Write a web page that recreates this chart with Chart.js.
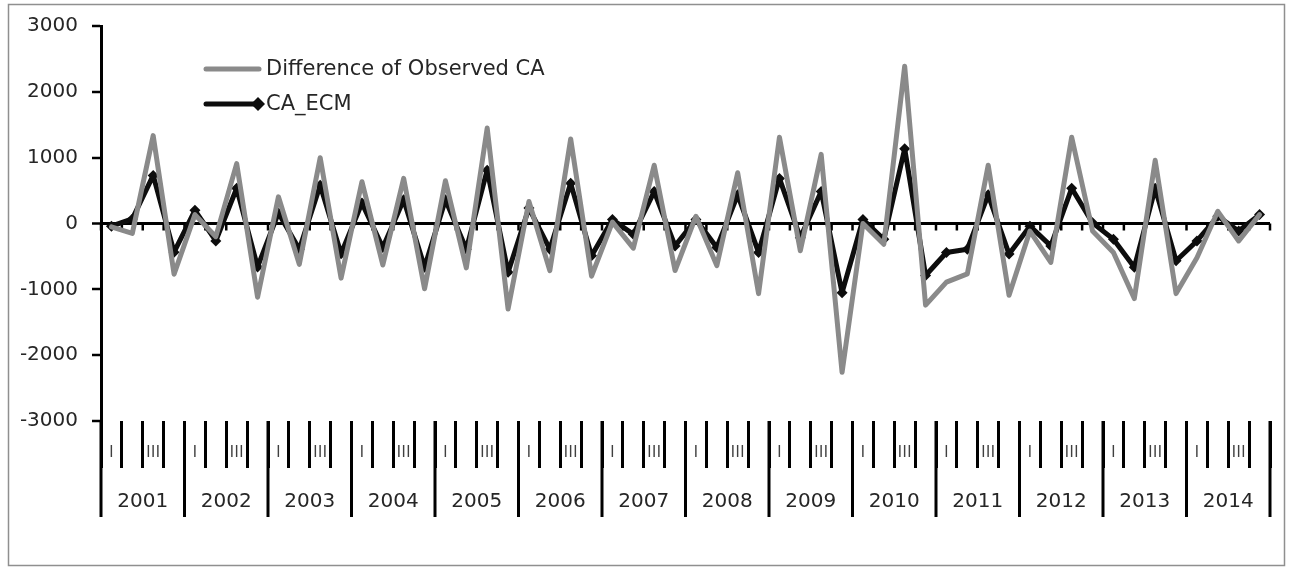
<!DOCTYPE html>
<html>
<head>
<meta charset="utf-8">
<script src="https://cdn.jsdelivr.net/npm/chart.js@4/dist/chart.umd.min.js"></script>
<style>
  html, body { margin: 0; padding: 0; background: #ffffff; }
  #wrap { width: 1291px; height: 567px; }
</style>
</head>
<body>
<div id="wrap"><canvas id="c" width="1291" height="567"></canvas></div>
<script>
// ---- data ----
const years = ['2001','2002','2003','2004','2005','2006','2007','2008','2009','2010','2011','2012','2013','2014'];
const quarters = ['I','II','III','IV'];
const yTickValues = [-3000, -2000, -1000, 0, 1000, 2000, 3000];

const seriesNames = ['Difference of Observed CA', 'CA_ECM'];

const diffObserved = [
  -50, -150, 1335, -770,
  135, -200, 910, -1120,
  405, -620, 1000, -830,
  635, -630, 685, -990,
  650, -675, 1450, -1300,
  335, -715, 1285, -800,
  20, -375, 885, -715,
  110, -640, 770, -1065,
  1310, -415, 1050, -2260,
  0, -315, 2390, -1240,
  -890, -765, 885, -1090,
  -115, -590, 1310, -115,
  -440, -1140, 960, -1065,
  -520, 185, -265, 135
];

const caEcm = [
  -40, 70, 730, -435,
  200, -265, 535, -660,
  160, -390, 580, -460,
  310, -365, 360, -665,
  360, -390, 810, -740,
  235, -390, 610, -490,
  60, -165, 485, -340,
  60, -365, 435, -440,
  685, -215, 485, -1050,
  60, -240, 1135, -790,
  -440, -390, 435, -465,
  -40, -340, 535, 10,
  -240, -665, 535, -565,
  -265, 110, -115, 135
];

// category labels (year + quarter)
const categories = [];
years.forEach(y => quarters.forEach(q => categories.push(y + ' ' + q)));

const GRAY = '#8a8a8a';
const BLACK = '#0d0d0d';
const TEXT = '#262626';
const FONT = "'DejaVu Sans', sans-serif";

const decor = {
  id: 'decor',
  beforeDraw(chart) {
    const ctx = chart.ctx;
    ctx.save();
    ctx.strokeStyle = '#8f8f8f';
    ctx.lineWidth = 1.5;
    ctx.strokeRect(8.5, 4.5, 1276, 561);
    ctx.restore();
  },
  beforeDatasetsDraw(chart) {
    const ctx = chart.ctx;
    const xs = chart.scales.x, ys = chart.scales.y;
    const y0 = ys.getPixelForValue(0);
    const half = (xs.getPixelForValue(1) - xs.getPixelForValue(0)) / 2;
    ctx.save();
    ctx.strokeStyle = '#000';
    ctx.lineWidth = 2.5;
    ctx.beginPath();
    for (let i = 0; i <= categories.length; i++) {
      const px = i < categories.length ? xs.getPixelForValue(i) - half : xs.getPixelForValue(i - 1) + half;
      ctx.moveTo(px, y0);
      ctx.lineTo(px, y0 + 7);
    }
    ctx.stroke();
    ctx.restore();
  },
  afterDraw(chart) {
    const ctx = chart.ctx;
    const xs = chart.scales.x;
    const area = chart.chartArea;
    const half = (xs.getPixelForValue(1) - xs.getPixelForValue(0)) / 2;
    ctx.save();
    // year separators
    ctx.strokeStyle = '#000';
    ctx.lineWidth = 3;
    ctx.beginPath();
    for (let k = 0; k <= years.length; k++) {
      const idx = k * quarters.length;
      const px = idx < categories.length ? xs.getPixelForValue(idx) - half : xs.getPixelForValue(idx - 1) + half;
      ctx.moveTo(px, area.bottom);
      ctx.lineTo(px, area.bottom + 96);
    }
    ctx.stroke();
    // year labels
    ctx.fillStyle = TEXT;
    ctx.font = "20px " + FONT;
    ctx.textAlign = 'center';
    ctx.textBaseline = 'middle';
    years.forEach((y, k) => {
      const a = xs.getPixelForValue(k * 4) - half;
      const b = xs.getPixelForValue(k * 4 + 3) + half;
      ctx.fillText(y, (a + b) / 2, area.bottom + 81);
    });
    // legend
    ctx.lineCap = 'round';
    ctx.lineWidth = 5;
    ctx.strokeStyle = GRAY;
    ctx.beginPath(); ctx.moveTo(206, 69); ctx.lineTo(259, 69); ctx.stroke();
    ctx.strokeStyle = BLACK;
    ctx.beginPath(); ctx.moveTo(206, 104); ctx.lineTo(257, 104); ctx.stroke();
    ctx.fillStyle = BLACK;
    ctx.beginPath();
    ctx.moveTo(258, 97); ctx.lineTo(265, 104); ctx.lineTo(258, 111); ctx.lineTo(251, 104); ctx.closePath();
    ctx.fill();
    ctx.fillStyle = TEXT;
    ctx.textAlign = 'left';
    ctx.font = "21px " + FONT;
    ctx.fillText(seriesNames[0], 266, 70);
    ctx.fillText(seriesNames[1], 266, 105);
    ctx.restore();
  }
};

new Chart(document.getElementById('c'), {
  type: 'line',
  data: {
    labels: categories,
    datasets: [
      {
        label: seriesNames[0],
        data: diffObserved,
        borderColor: GRAY,
        backgroundColor: GRAY,
        borderWidth: 5,
        pointRadius: 0,
        pointHoverRadius: 0,
        tension: 0,
        borderJoinStyle: 'round',
        borderCapStyle: 'round'
      },
      {
        label: seriesNames[1],
        data: caEcm,
        borderColor: BLACK,
        backgroundColor: BLACK,
        borderWidth: 5,
        pointStyle: 'rectRot',
        pointRadius: 5.5,
        pointBorderWidth: 0,
        pointBackgroundColor: BLACK,
        tension: 0,
        borderJoinStyle: 'round',
        borderCapStyle: 'round'
      }
    ]
  },
  options: {
    responsive: false,
    animation: false,
    devicePixelRatio: 1,
    layout: { padding: { left: 8, right: 21, top: 21, bottom: 0 } },
    plugins: { legend: { display: false }, tooltip: { enabled: false } },
    scales: {
      x: {
        type: 'category',
        offset: true,
        grid: {
          offset: true,
          drawOnChartArea: false,
          drawTicks: true,
          tickLength: 47,
          color: '#000',
          tickColor: '#000',
          lineWidth: 3,
          tickWidth: 3
        },
        border: { display: false },
        ticks: {
          autoSkip: false,
          maxRotation: 0,
          minRotation: 0,
          padding: -26,
          color: '#404040',
          font: { family: "'Open Sans', sans-serif", size: 17 },
          callback: (v, i) => {
            const q = quarters[i % quarters.length];
            return (q === 'I' || q === 'III') ? q : '';
          }
        },
        afterFit: s => { s.height = 146; }
      },
      y: {
        min: yTickValues[0],
        max: yTickValues[yTickValues.length - 1],
        afterBuildTicks: s => { s.ticks = yTickValues.map(v => ({ value: v })); },
        grid: {
          drawOnChartArea: true,
          drawTicks: true,
          tickLength: 9,
          color: c => (c.tick && c.tick.value === 0) ? '#000' : 'rgba(0,0,0,0)',
          lineWidth: c => (c.tick && c.tick.value === 0) ? 3 : 0,
          tickColor: '#000',
          tickWidth: 2.5
        },
        border: { display: true, color: '#000', width: 3 },
        ticks: {
          padding: 14,
          color: TEXT,
          font: { family: FONT, size: 20 },
          callback: v => String(v)
        },
        afterFit: s => { s.width = 93; }
      }
    }
  },
  plugins: [decor]
});
</script>
</body>
</html>
